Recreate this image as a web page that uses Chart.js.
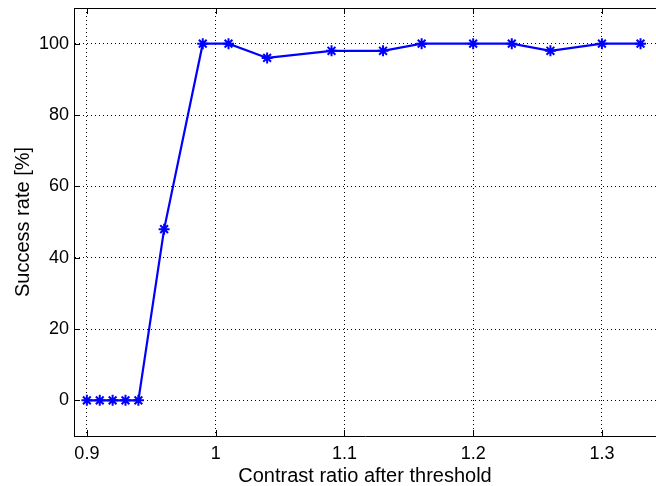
<!DOCTYPE html>
<html>
<head>
<meta charset="utf-8">
<script src="https://cdn.jsdelivr.net/npm/chart.js@4"></script>
<style>
  html, body { margin: 0; padding: 0; background: #fff; }
  #wrap { width: 656px; height: 486px; }
</style>
</head>
<body>
<div id="wrap"><canvas id="chart" width="656" height="486"></canvas></div>
<script>
// data
const contrastRatio = [0.9, 0.91, 0.92, 0.93, 0.94, 0.96, 0.99, 1.01, 1.04, 1.09, 1.13, 1.16, 1.2, 1.23, 1.26, 1.3, 1.33];
const successRate = [0, 0, 0, 0, 0, 48, 100, 100, 96, 98, 98, 100, 100, 100, 98, 100, 100];

const xTicks = [0.9, 1, 1.1, 1.2, 1.3];
const yTicks = [0, 20, 40, 60, 80, 100];

const FONT = "'Liberation Sans', Arial, sans-serif";

// MATLAB style: box top line + inward tick marks
const axesBox = {
  id: "axesBox",
  afterDraw: (chart) => {
    const ctx = chart.ctx;
    const area = chart.chartArea;
    const x = chart.scales.x;
    const y = chart.scales.y;
    const len = 6;
    ctx.save();
    ctx.strokeStyle = "#000";
    ctx.lineWidth = 1;
    ctx.beginPath();
    ctx.moveTo(area.left, area.top + 0.5);
    ctx.lineTo(area.right, area.top + 0.5);
    xTicks.forEach((v) => {
      const px = Math.round(x.getPixelForValue(v)) + 0.5;
      ctx.moveTo(px, area.bottom);
      ctx.lineTo(px, area.bottom - len);
      ctx.moveTo(px, area.top);
      ctx.lineTo(px, area.top + len);
    });
    yTicks.forEach((v) => {
      const py = Math.round(y.getPixelForValue(v)) + 0.5;
      ctx.moveTo(area.left, py);
      ctx.lineTo(area.left + len, py);
    });
    ctx.stroke();
    ctx.restore();
  },
};

new Chart(document.getElementById("chart"), {
  type: "scatter",
  plugins: [axesBox],
  data: {
    datasets: [
      {
        data: contrastRatio.map((v, i) => ({ x: v, y: successRate[i] })),
        showLine: true,
        borderColor: "#0000ff",
        backgroundColor: "#0000ff",
        borderWidth: 2.2,
        pointStyle: "star",
        pointRadius: 5.5,
        pointBorderWidth: 2,
        pointBorderColor: "#0000ff",
      },
    ],
  },
  options: {
    responsive: false,
    animation: false,
    layout: {
      autoPadding: false,
      padding: { top: 8, left: 0, right: 0, bottom: 0 },
    },
    plugins: {
      legend: { display: false },
      tooltip: { enabled: false },
    },
    scales: {
      x: {
        type: "linear",
        min: 0.89,
        max: 1.342,
        afterBuildTicks: (scale) => {
          scale.ticks = xTicks.map((v) => ({ value: v }));
        },
        afterFit: (scale) => {
          scale.height = 50;
          scale.paddingLeft = 0;
          scale.paddingRight = 0;
        },
        grid: {
          color: "#000",
          lineWidth: 1,
          drawTicks: false,
        },
        border: { display: true, color: "#000", width: 1, dash: [1, 3] },
        ticks: {
          color: "#000",
          padding: 7,
          maxRotation: 0,
          font: { family: FONT, size: 18 },
          callback: (v) => String(Math.round(v * 10) / 10),
        },
        title: {
          display: true,
          text: "Contrast ratio after threshold",
          color: "#000",
          font: { family: FONT, size: 20, lineHeight: 1 },
          padding: { top: 0, bottom: 0 },
        },
      },
      y: {
        min: -10,
        max: 110,
        afterBuildTicks: (scale) => {
          scale.ticks = yTicks.map((v) => ({ value: v }));
        },
        afterFit: (scale) => {
          scale.width = 74;
          scale.paddingTop = 0;
          scale.paddingBottom = 0;
        },
        grid: {
          color: "#000",
          lineWidth: 1,
          drawTicks: false,
        },
        border: { display: true, color: "#000", width: 1, dash: [1, 3] },
        ticks: {
          color: "#000",
          padding: 5,
          font: { family: FONT, size: 18 },
        },
        title: {
          display: true,
          text: "Success rate [%]",
          color: "#000",
          font: { family: FONT, size: 20, lineHeight: 1 },
          padding: { top: 13, bottom: 0 },
        },
      },
    },
  },
});
</script>
</body>
</html>
